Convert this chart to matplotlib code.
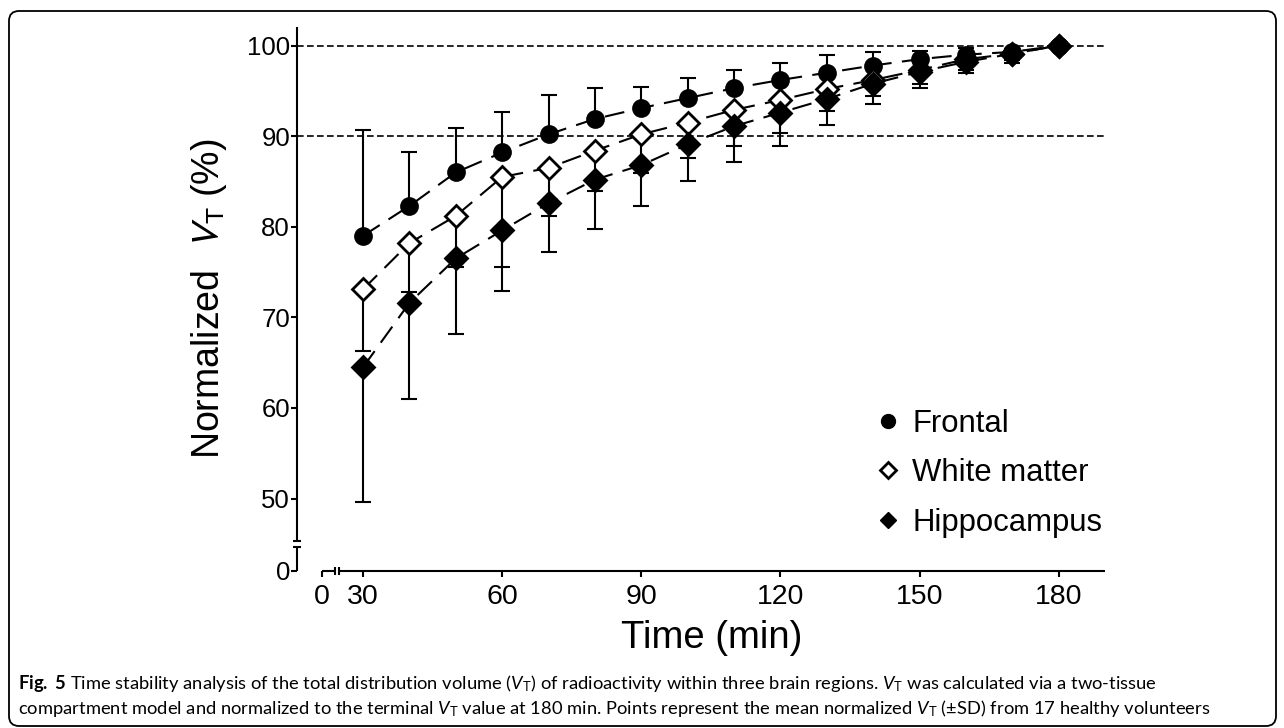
import matplotlib
matplotlib.use("Agg")
import matplotlib.pyplot as plt
import matplotlib.transforms as mtransforms
from matplotlib.patches import FancyBboxPatch
from matplotlib.lines import Line2D
import numpy as np

# minutes after injection
time = [30, 40, 50, 60, 70, 80, 90, 100, 110, 120, 130, 140, 150, 160, 170, 180]

# mean normalized VT (%) and SD
frontal = [79.0, 82.3, 86.0, 88.2, 90.2, 91.9, 93.1, 94.2, 95.3, 96.2, 97.0, 97.8, 98.5, 99.0, 99.3, 100.0]
frontal_sd = [11.7, 5.9, 4.9, 4.5, 4.3, 3.4, 2.3, 2.2, 2.0, 1.9, 2.0, 1.5, 0.9, 0.7, 0.3, 0.0]
white = [73.1, 78.2, 81.2, 85.5, 86.5, 88.4, 90.2, 91.5, 92.9, 94.0, 95.2, 96.2, 97.3, 98.5, 99.1, 100.0]
white_sd = [6.8, 5.4, 5.6, 9.9, 5.3, 4.5, 4.3, 3.9, 4.0, 3.7, 2.4, 1.8, 1.5, 1.2, 0.7, 0.0]
hippo = [64.5, 71.6, 76.5, 79.6, 82.6, 85.2, 86.8, 89.1, 91.1, 92.6, 94.1, 95.8, 97.1, 98.2, 99.1, 100.0]
hippo_sd = [14.9, 10.6, 8.3, 6.7, 5.4, 5.4, 4.5, 4.0, 4.0, 3.7, 2.9, 2.2, 1.8, 1.2, 1.0, 0.0]

labels = ["Frontal", "White matter", "Hippocampus"]
xticks = [0, 30, 60, 90, 120, 150, 180]
yticks = [0, 50, 60, 70, 80, 90, 100]

caption1 = (r"$\mathbf{Fig.}$ $\mathbf{5}$ Time stability analysis of the total distribution volume "
            r"($V_\mathrm{T}$) of radioactivity within three brain regions. $V_\mathrm{T}$ "
            r"was calculated via a two-tissue")
caption2 = (r"compartment model and normalized to the terminal $V_\mathrm{T}$ value at 180 min. "
            r"Points represent the mean normalized $V_\mathrm{T}$ ($\pm$SD) from 17 healthy volunteers")

plt.rcParams['font.family'] = 'Liberation Sans'
plt.rcParams['mathtext.fontset'] = 'custom'
plt.rcParams['mathtext.rm'] = 'Lato'
plt.rcParams['mathtext.it'] = 'Lato:italic'
plt.rcParams['mathtext.bf'] = 'Lato:bold'


# broken axes: identity above the break, squeezed below it
def fwd_x(x):
    x = np.asarray(x, float)
    return np.where(x >= 25, x, 21.15 + x * 3.85 / 25)


def inv_x(v):
    v = np.asarray(v, float)
    return np.where(v >= 25, v, (v - 21.15) * 25 / 3.85)


def fwd_y(y):
    y = np.asarray(y, float)
    return np.where(y >= 45, y, 42.0 + y * 3.0 / 45)


def inv_y(v):
    v = np.asarray(v, float)
    return np.where(v >= 45, v, (v - 42.0) * 45 / 3.0)


fig = plt.figure(figsize=(12.84, 7.28), dpi=100)
ax = fig.add_axes([297 / 1284, 157 / 728, 808 / 1284, 544 / 728])
ax.set_xscale('function', functions=(fwd_x, inv_x))
ax.set_yscale('function', functions=(fwd_y, inv_y))
xmin = float(inv_x(15.75))
ymax = 102.05
ax.set_xlim(xmin, 190)
ax.set_ylim(0, ymax)

for s in ax.spines.values():
    s.set_visible(False)

c = 'k'
lw = 1.5
bx = mtransforms.blended_transform_factory(ax.transData, ax.transAxes)
by = mtransforms.blended_transform_factory(ax.transAxes, ax.transData)
xb_lo, xb_hi = float(inv_x(23.96)), float(inv_x(24.83))
yb_lo, yb_hi = float(inv_y(44.7)), 45.3
ax.plot([0, xb_lo], [0, 0], color=c, lw=lw, transform=bx, clip_on=False, solid_capstyle='butt')
ax.plot([xb_hi, 190], [0, 0], color=c, lw=lw, transform=bx, clip_on=False, solid_capstyle='butt')
ax.plot([xb_lo, xb_hi], [0, 0], ls='none', marker='|', ms=6, mew=lw, color=c, transform=bx, clip_on=False)
ax.plot([0, 0], [0, yb_lo], color=c, lw=lw, transform=by, clip_on=False, solid_capstyle='butt')
ax.plot([0, 0], [yb_hi, ymax], color=c, lw=lw, transform=by, clip_on=False, solid_capstyle='butt')
ax.plot([0, 0], [yb_lo, yb_hi], ls='none', marker='_', ms=6, mew=lw, color=c, transform=by, clip_on=False)

ax.set_xticks(xticks)
ax.set_yticks(yticks)
ax.set_xticklabels([str(t) for t in xticks])
ax.set_yticklabels([str(t) for t in yticks])
ax.tick_params(axis='x', direction='out', length=4, width=lw, labelsize=20.5, pad=5)
ax.tick_params(axis='y', direction='out', length=4, width=lw, labelsize=18.5, pad=1)

ax.axhline(100, color=c, lw=1.2, ls=(0, (4, 2)), zorder=1)
ax.axhline(90, color=c, lw=1.2, ls=(0, (4, 2)), zorder=1)

series = [
    (frontal, frontal_sd, 'o', 11.5, 'k', 1),
    (white, white_sd, 'D', 11, 'white', -1),
    (hippo, hippo_sd, 'D', 11, 'k', -1),
]
for y, sd, m, ms, fc, sign in series:
    y = np.array(y)
    ends = y + sign * np.array(sd)
    ax.vlines(time, y, ends, color=c, lw=lw, zorder=2)
    ax.plot(time, ends, ls='none', marker='_', ms=12, mew=lw, color=c, zorder=2)
    ax.plot(time, y, ls=(0, (9.5, 5)), color=c, lw=lw, marker=m, ms=ms,
            mfc=fc, mec=c, mew=2, zorder=3)

handles = [
    Line2D([], [], ls='none', marker='o', ms=10, color=c),
    Line2D([], [], ls='none', marker='D', ms=8, mfc='white', mec=c, mew=2),
    Line2D([], [], ls='none', marker='D', ms=8, color=c),
]
ax.legend(handles, labels, loc='upper left', bbox_to_anchor=(876 / 1284, 1 - 409 / 728),
          bbox_transform=fig.transFigure, frameon=False, fontsize=22.4,
          handlelength=0.8, handletextpad=0.37, labelspacing=0.62, borderpad=0, borderaxespad=0)

ax.set_xlabel("Time (min)", fontsize=27.5)
ax.xaxis.set_label_coords((712 - 297) / 808, -(638 - 571) / 544)
ax.xaxis.label.set_va('center')
ax.set_ylabel(r"Normalized  $V_\mathrm{T}$ (%)", fontsize=27, math_fontfamily='stixsans')
ax.yaxis.set_label_coords((209 - 297) / 808, 0.5)
ax.yaxis.label.set_va('center')

fig.text(18 / 1284, 1 - 689 / 728, caption1, fontsize=13.2, family='Lato', va='baseline')
fig.text(18 / 1284, 1 - 714 / 728, caption2, fontsize=13.2, family='Lato', va='baseline')

border = FancyBboxPatch((9, 2), 1267, 715, boxstyle="round,pad=0,rounding_size=10",
                        transform=None, fill=False, ec=c, lw=1.3)
fig.add_artist(border)

fig.savefig("out.png", dpi=100)
